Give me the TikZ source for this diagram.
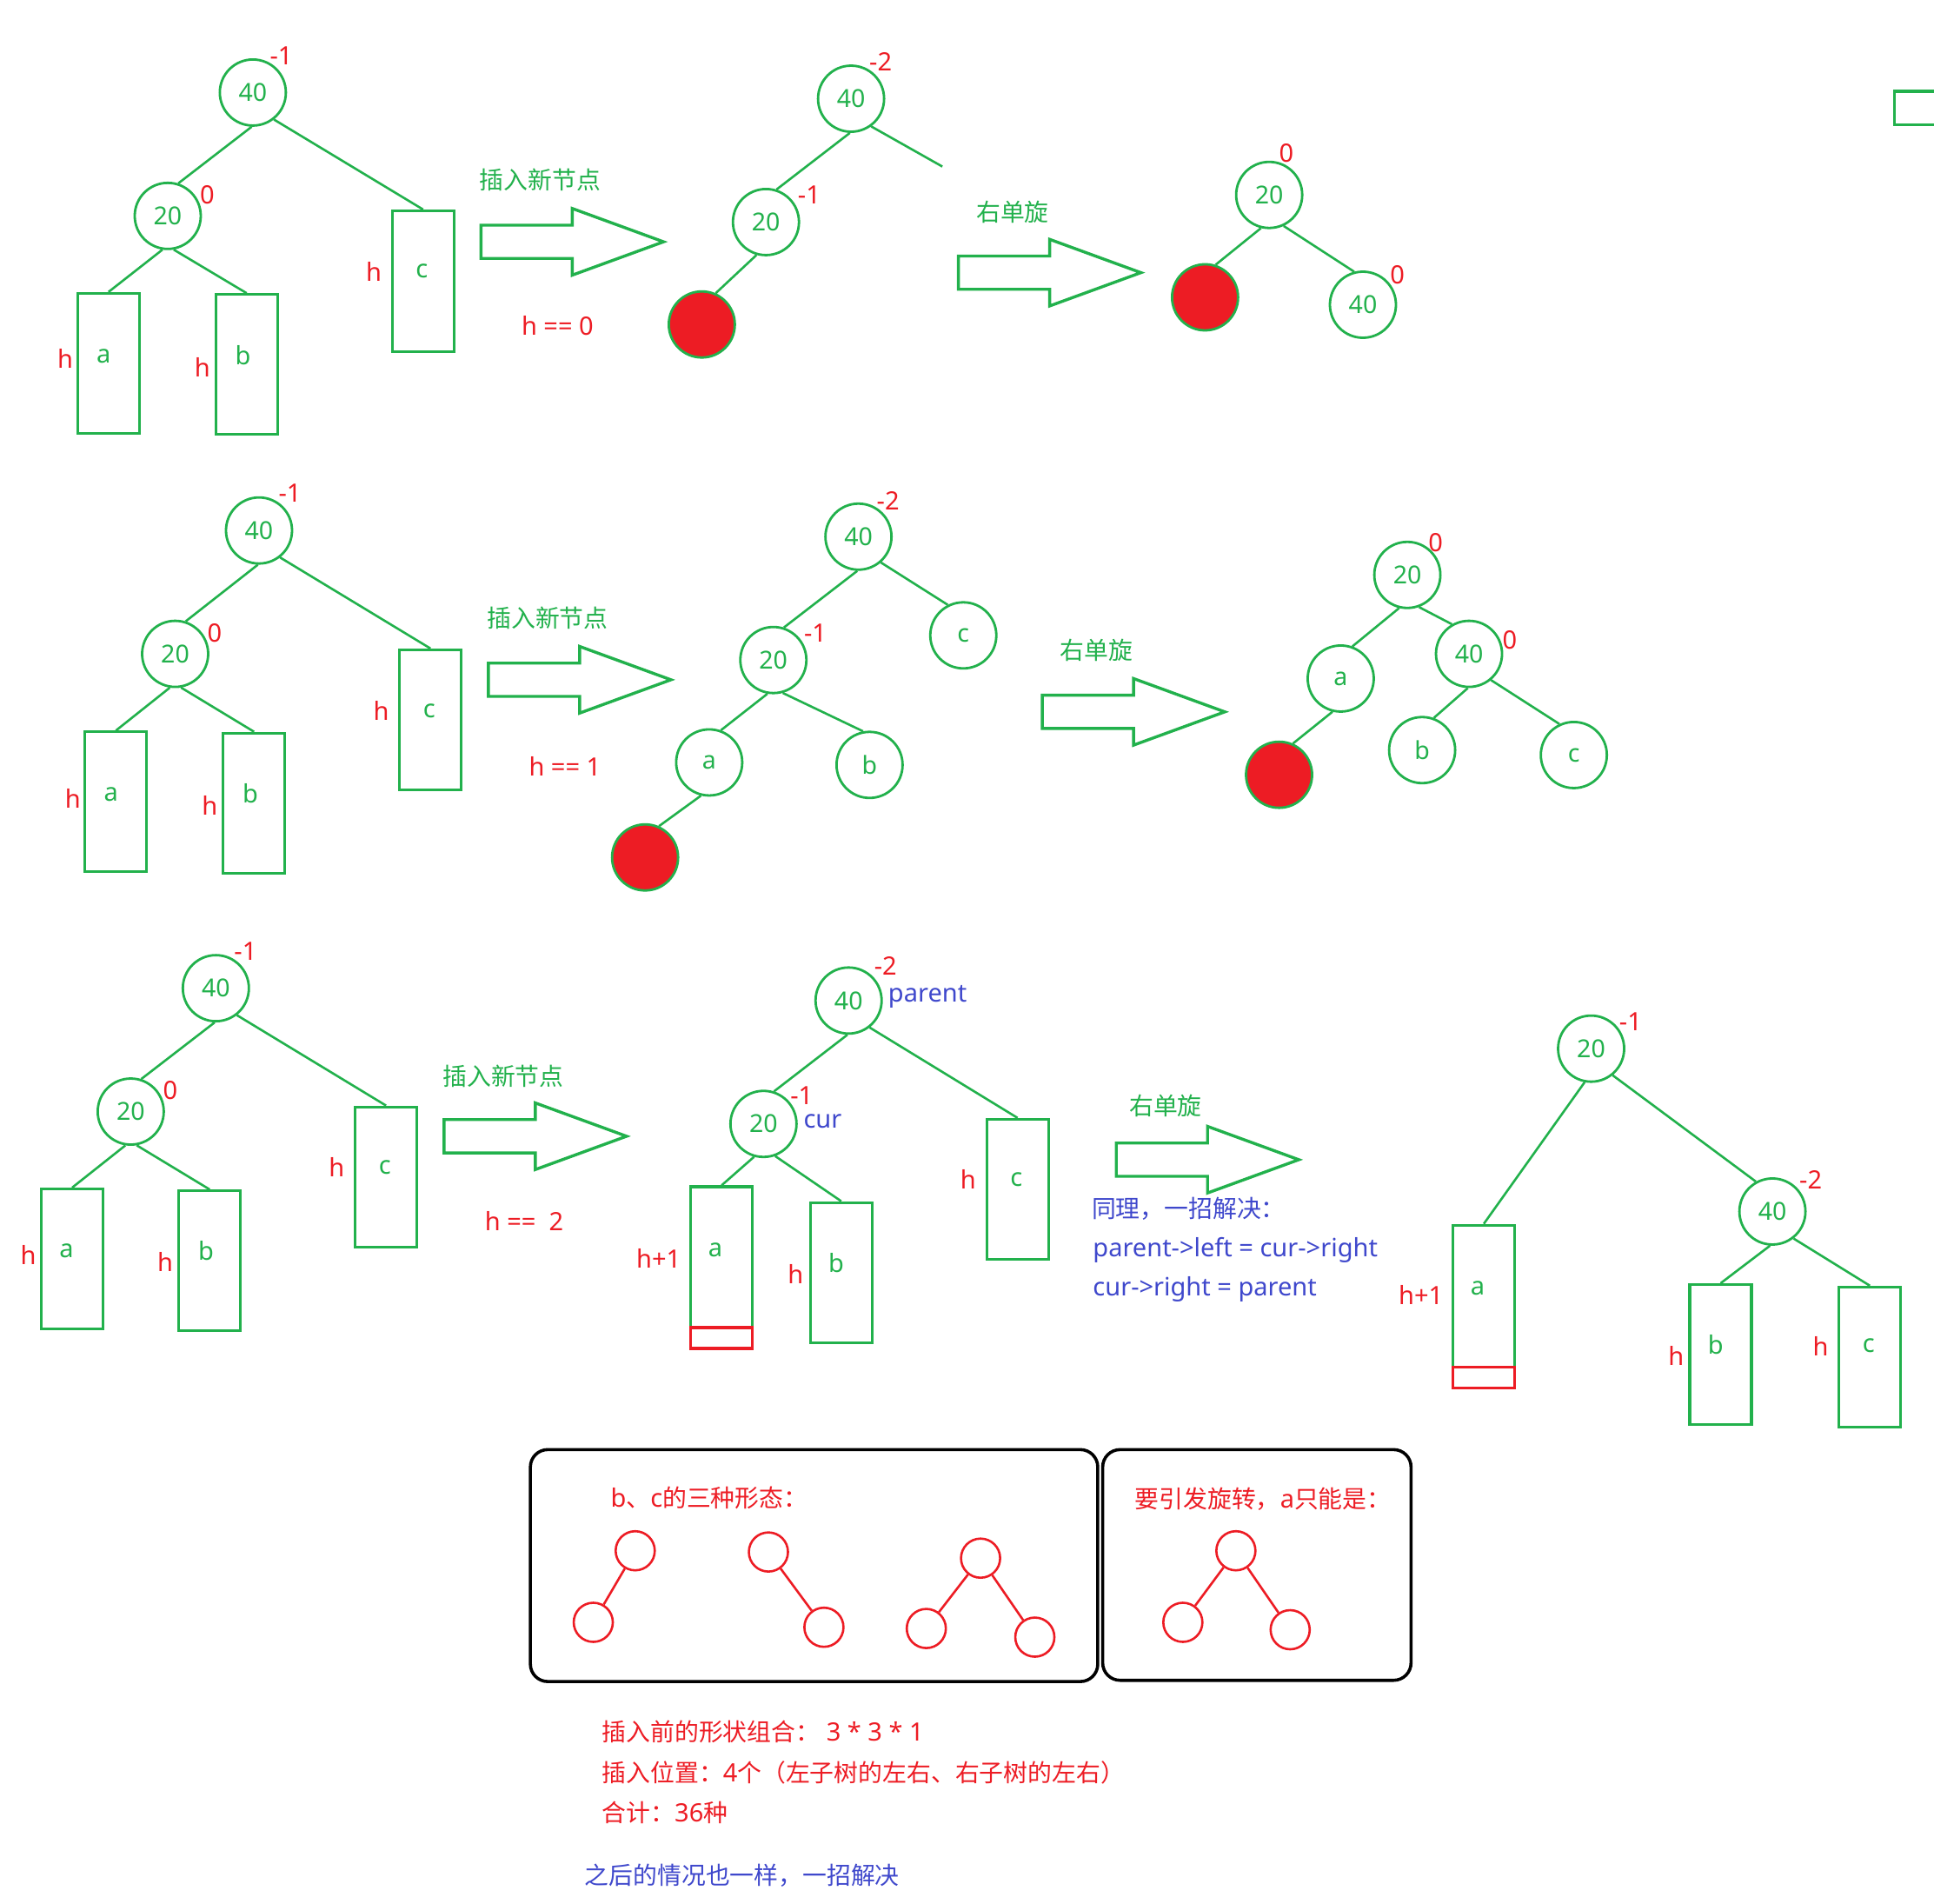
\documentclass[tikz,border=0pt]{standalone}
\usepackage{fontspec}
\setmainfont{Noto Sans}
\newfontfamily\cjk{Noto Sans CJK SC}[Scale=0.96]
\definecolor{pgreen}{HTML}{22B14C}
\definecolor{pred}{HTML}{ED1C24}
\definecolor{pblue}{HTML}{3F48CC}
\tikzset{
  txt/.style={inner sep=0pt, font=\fontsize{29}{34}\selectfont},
  tnode/.style={circle, draw=pgreen, line width=2.8pt, minimum size=76pt, inner sep=0pt, text=pgreen, font=\fontsize{28.5}{34}\selectfont},
  rnode/.style={tnode, fill=pred},
  sbox/.style={draw=pgreen, line width=3.2pt, minimum width=71pt, minimum height=161pt, inner sep=0pt},
  redbox/.style={draw=pred, line width=3.2pt, minimum width=71pt, minimum height=24pt, inner sep=0pt},
  edge/.style={pgreen, line width=2.6pt},
  bal/.style={txt, text=pred},
  gtxt/.style={txt, text=pgreen},
  btxt/.style={txt, text=pblue},
  rcirc/.style={circle, draw=pred, line width=2.6pt, minimum size=45pt, inner sep=0pt},
  redge/.style={pred, line width=2.6pt},
  panel/.style={draw=black, line width=3.6pt, rounded corners=20pt},
  arrowline/.style={draw=pgreen, line width=3.4pt, line join=miter},
  bigarrow/.pic={\draw[arrowline] (0,-13.5) -- (74,-13.5) -- (74,-27) -- (148,0) -- (74,27) -- (74,13.5) -- (0,13.5) -- cycle;}
}
\begin{document}
\begin{tikzpicture}[x=1.419pt, y=-1.419pt]
\useasboundingbox (0,0) rectangle (1568,1543);
\fill[white] (0,0) rectangle (1568,1543);

%%%%%%%%%%%%%%%% Row 1
\node[tnode] (r1a40) at (205,75) {40};
\node[tnode] (r1a20) at (136,175) {20};
\node[sbox] (r1aA) at (88,294.5) {};
\node[sbox] (r1aB) at (200,295.5) {};
\node[sbox, minimum height=162pt] (r1aC) at (343,228) {};
\draw[edge] (r1a40.-92) -- (r1a20.72);
\draw[edge] (r1a40.-52) -- (r1aC.north);
\draw[edge] (r1a20.-99) -- (r1aA.north);
\draw[edge] (r1a20.-80) -- (r1aB.north);
\node[bal] (r1ab1) at (228,45) {-1};
\node[bal] (r1ab2) at (168,158) {0};
\node[bal] (r1ah1) at (53,291) {h};
\node[gtxt] (r1aa) at (84,289) {a};
\node[bal] (r1ah2) at (164,298) {h};
\node[gtxt] (r1ab) at (197,288) {b};
\node[bal] (r1ah3) at (303,220) {h};
\node[gtxt] (r1ac) at (342,220) {c};

\node[gtxt] (r1ins) at (438,146) {\cjk 插入新节点};
\pic at (390,196) {bigarrow};
\node[bal] (r1h) at (452,264) {h == 0};

\node[tnode] (r1b40) at (690,80) {40};
\node[tnode] (r1b20) at (621,180) {20};
\node[rnode] (r1bR) at (569,263) {};
\coordinate (r1bend) at (764,135);
\draw[edge] (r1b40.-92) -- (r1b20.72);
\draw[edge] (r1b40.-54) -- (r1bend);
\draw[edge] (r1b20.-106) -- (r1bR.66);
\node[bal] (r1bb1) at (714,50) {-2};
\node[bal] (r1bb2) at (656,158) {-1};

\node[gtxt] (r1rot) at (821,172) {\cjk 右单旋};
\pic at (777,221) {bigarrow};

\node[tnode] (r1c20) at (1029,158) {20};
\node[rnode] (r1cR) at (977,241) {};
\node[tnode] (r1c40) at (1105,247) {40};
\draw[edge] (r1c20.-104) -- (r1cR.72);
\draw[edge] (r1c20.-65) -- (r1c40.105);
\node[bal] (r1cb1) at (1043,124) {0};
\node[bal] (r1cb2) at (1133,223) {0};

\draw[pgreen, line width=3.4pt] (1580,74) -- (1536,74) -- (1536,101) -- (1580,101);

%%%%%%%%%%%%%%%% Row 2
\node[tnode] (r2a40) at (210,430) {40};
\node[tnode] (r2a20) at (142,530) {20};
\node[sbox] (r2aA) at (94,650) {};
\node[sbox] (r2aB) at (206,651) {};
\node[sbox] (r2aC) at (349,583.5) {};
\draw[edge] (r2a40.-92) -- (r2a20.72);
\draw[edge] (r2a40.-52) -- (r2aC.north);
\draw[edge] (r2a20.-99) -- (r2aA.north);
\draw[edge] (r2a20.-80) -- (r2aB.north);
\node[bal] (r2ab1) at (235,400) {-1};
\node[bal] (r2ab2) at (174,513) {0};
\node[bal] (r2ah1) at (59,647) {h};
\node[gtxt] (r2aa) at (90,644) {a};
\node[bal] (r2ah2) at (170,653) {h};
\node[gtxt] (r2ab) at (203,643) {b};
\node[bal] (r2ah3) at (309,576) {h};
\node[gtxt] (r2ac) at (348,576) {c};

\node[gtxt] (r2ins) at (444,501) {\cjk 插入新节点};
\pic at (396,551) {bigarrow};
\node[bal] (r2h) at (458,621) {h == 1};

\node[tnode] (r2b40) at (696,435) {40};
\node[tnode] (r2bc) at (781,515) {c};
\node[tnode] (r2b20) at (627,535) {20};
\node[tnode] (r2ba) at (575,618) {a};
\node[tnode] (r2bb) at (705,620) {b};
\node[rnode] (r2bR) at (523,695) {};
\draw[edge] (r2b40.-92) -- (r2b20.72);
\draw[edge] (r2b40.-49) -- (r2bc.117);
\draw[edge] (r2b20.-100) -- (r2ba.70);
\draw[edge] (r2b20.-74) -- (r2bb.101);
\draw[edge] (r2ba.-104) -- (r2bR.66);
\node[bal] (r2bb1) at (720,406) {-2};
\node[bal] (r2bb2) at (661,513) {-1};

\node[gtxt] (r2rot) at (889,527) {\cjk 右单旋};
\pic at (845,577) {bigarrow};

\node[tnode] (r2c20) at (1141,466) {20};
\node[tnode] (r2ca) at (1087,550) {a};
\node[tnode] (r2c40) at (1191,530) {40};
\node[rnode] (r2cR) at (1037,628) {};
\node[tnode] (r2cb) at (1153,608) {b};
\node[tnode] (r2cc) at (1276,612) {c};
\draw[edge] (r2c20.-104) -- (r2ca.70);
\draw[edge] (r2c20.-70) -- (r2c40.120);
\draw[edge] (r2ca.-104) -- (r2cR.66);
\draw[edge] (r2c40.-92) -- (r2cb.70);
\draw[edge] (r2c40.-50) -- (r2cc.115);
\node[bal] (r2cb1) at (1164,440) {0};
\node[bal] (r2cb2) at (1224,519) {0};

%%%%%%%%%%%%%%%% Row 3
\node[tnode] (r3a40) at (175,801) {40};
\node[tnode] (r3a20) at (106,901) {20};
\node[sbox] (r3aA) at (58.5,1020.5) {};
\node[sbox] (r3aB) at (170,1022) {};
\node[sbox] (r3aC) at (313,954) {};
\draw[edge] (r3a40.-92) -- (r3a20.72);
\draw[edge] (r3a40.-52) -- (r3aC.north);
\draw[edge] (r3a20.-99) -- (r3aA.north);
\draw[edge] (r3a20.-80) -- (r3aB.north);
\node[bal] (r3ab1) at (199,771) {-1};
\node[bal] (r3ab2) at (138,884) {0};
\node[bal] (r3ah1) at (23,1017) {h};
\node[gtxt] (r3aa) at (54,1014) {a};
\node[bal] (r3ah2) at (134,1023) {h};
\node[gtxt] (r3ab) at (167,1014) {b};
\node[bal] (r3ah3) at (273,946) {h};
\node[gtxt] (r3ac) at (312,946) {c};

\node[gtxt] (r3ins) at (408,872) {\cjk 插入新节点};
\pic at (360,921) {bigarrow};
\node[bal] (r3h) at (425,990) {h ==\ \ 2};

\node[tnode] (r3b40) at (688,811) {40};
\node[tnode] (r3b20) at (619,911) {20};
\node[sbox, minimum height=186pt] (r3bA) at (585,1027.5) {};
\node[redbox] (r3bAr) at (585,1084.5) {};
\node[sbox] (r3bB) at (682,1031.5) {};
\node[sbox] (r3bC) at (825,964) {};
\draw[edge] (r3b40.-92) -- (r3b20.72);
\draw[edge] (r3b40.-52) -- (r3bC.north);
\draw[edge] (r3b20.-106) -- (r3bA.north);
\draw[edge] (r3b20.-70) -- (r3bB.north);
\node[bal] (r3bb1) at (718,783) {-2};
\node[btxt] (r3bpar) at (752,808) {parent};
\node[bal] (r3bb2) at (650,888) {-1};
\node[btxt] (r3bcur) at (667,909) {cur};
\node[bal] (r3bh1) at (534,1020) {h+1};
\node[gtxt] (r3ba) at (580,1013) {a};
\node[bal] (r3bh2) at (645,1033) {h};
\node[gtxt] (r3bb) at (678,1024) {b};
\node[bal] (r3bh3) at (785,956) {h};
\node[gtxt] (r3bc) at (824,956) {c};

\node[gtxt] (r3rot) at (945,896) {\cjk 右单旋};
\pic at (905,940) {bigarrow};
\node[btxt, anchor=west] (r3n1) at (885,980) {\cjk 同理，一招解决：};
\node[btxt, anchor=west] (r3n2) at (886,1013) {parent->left = cur->right};
\node[btxt, anchor=west] (r3n3) at (886,1045) {cur->right = parent};

\node[tnode] (r3c20) at (1290,850) {20};
\node[tnode] (r3c40) at (1437,982) {40};
\node[sbox, minimum height=187pt] (r3cA) at (1203,1059) {};
\node[redbox] (r3cAr) at (1203,1116.5) {};
\node[sbox] (r3cB) at (1395,1098) {};
\node[sbox] (r3cC) at (1516,1100) {};
\draw[edge] (r3c20.-101) -- (r3cA.north);
\draw[edge] (r3c20.-51) -- (r3c40.119);
\draw[edge] (r3c40.-94) -- (r3cB.north);
\draw[edge] (r3c40.-52) -- (r3cC.north);
\node[bal] (r3cb1) at (1322,828) {-1};
\node[bal] (r3cb2) at (1468,956) {-2};
\node[bal] (r3ch1) at (1152,1050) {h+1};
\node[gtxt] (r3ca) at (1198,1044) {a};
\node[bal] (r3ch2) at (1359,1099) {h};
\node[gtxt] (r3cb) at (1391,1090) {b};
\node[bal] (r3ch3) at (1476,1091) {h};
\node[gtxt] (r3cc) at (1515,1091) {c};

%%%%%%%%%%%%%%%% Bottom panels
\draw[panel] (430,1175) rectangle (890,1363);
\node[bal] (p1t) at (575,1214) {b{\cjk 、}c{\cjk 的三种形态：}};
\node[rcirc] (sA1) at (515,1257) {};
\node[rcirc] (sA2) at (481,1315) {};
\node[rcirc] (sB1) at (623,1258) {};
\node[rcirc] (sB2) at (668,1319) {};
\node[rcirc] (sC1) at (795,1263) {};
\node[rcirc] (sC2) at (751,1320) {};
\node[rcirc] (sC3) at (839,1327) {};
\draw[redge] (sA1) -- (sA2);
\draw[redge] (sB1) -- (sB2);
\draw[redge] (sC1) -- (sC2);
\draw[redge] (sC1) -- (sC3);

\draw[panel] (894,1175) rectangle (1144,1362);
\node[bal] (p2t) at (1024,1215) {{\cjk 要引发旋转，}a{\cjk 只能是：}};
\node[rcirc] (sD1) at (1002,1257) {};
\node[rcirc] (sD2) at (959,1315) {};
\node[rcirc] (sD3) at (1046,1321) {};
\draw[redge] (sD1) -- (sD2);
\draw[redge] (sD1) -- (sD3);

\node[bal, anchor=west] (t1) at (488,1404) {{\cjk 插入前的形状组合：}\ 3 * 3 * 1};
\node[bal, anchor=west] (t2) at (488,1437) {{\cjk 插入位置：}4{\cjk 个（左子树的左右、右子树的左右）}};
\node[bal, anchor=west] (t3) at (488,1469) {{\cjk 合计：}36{\cjk 种}};
\node[btxt, anchor=west] (t4) at (474,1520) {\cjk 之后的情况也一样，一招解决};
\end{tikzpicture}
\end{document}
